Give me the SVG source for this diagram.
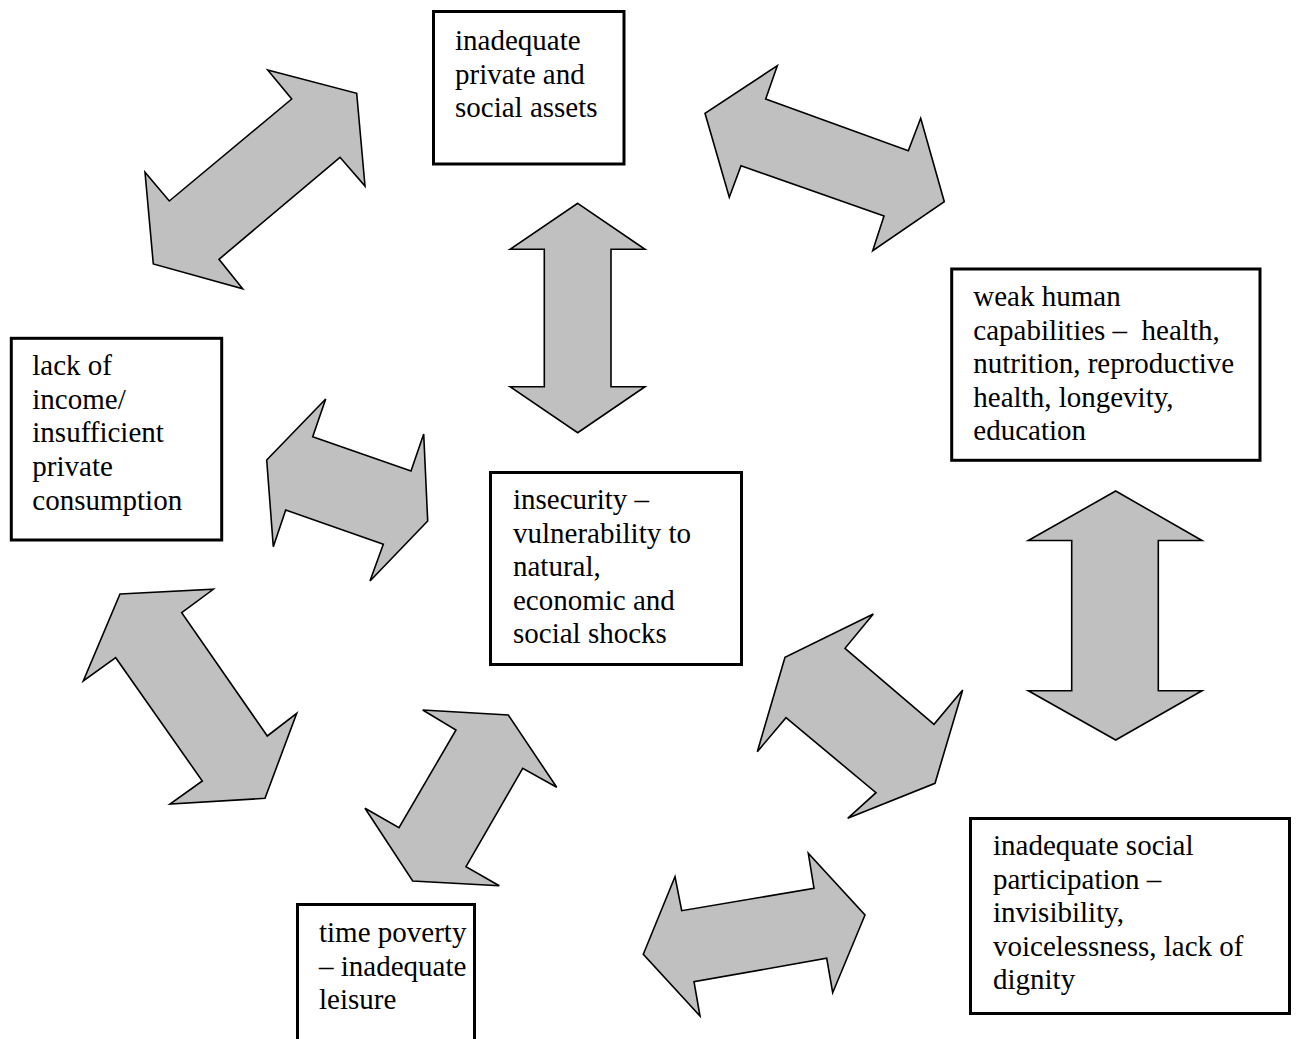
<svg xmlns="http://www.w3.org/2000/svg" width="1303" height="1039" viewBox="0 0 1303 1039">
<style>
.box{fill:#fff;stroke:#000;stroke-width:3}
.arr{fill:#c0c0c0;stroke:#000;stroke-width:1.6;stroke-linejoin:miter}
text{font-family:"Liberation Serif","Times New Roman",serif;font-size:29px;fill:#000;white-space:pre}
</style>
<rect width="1303" height="1039" fill="#fff"/>
<g id="connectors">
<polygon class="arr" points="267.7,70 356.7,93.3 365,186 340,157.3 219,259.3 242.7,288.7 153.3,264 145,172.3 169.3,201 291.7,99"/>
<polygon class="arr" points="777.3,65.7 765.7,99 908.3,150.7 920.7,118.3 944.3,201.7 872.7,250.7 884,216 741,165.7 729.3,197.3 705,113.3"/>
<polygon class="arr" points="577.7,203.3 645,249.3 611,249.3 611,386.7 645,386.7 577.7,432.7 510,386.7 544.3,386.7 544.3,249.3 510,249.3"/>
<polygon class="arr" points="325.7,399 312.7,436.7 411,471 423.7,434 427.7,521 370,581 383.3,544.3 285.7,510 273.3,546.7 266.7,460"/>
<polygon class="arr" points="120,594 213.3,589.3 181.7,612.7 267.3,736 296.7,713.3 265,798.3 170,804 202.3,781 115.7,657.7 83.3,681"/>
<polygon class="arr" points="422.7,710 508.3,715 556.7,787.3 522.7,768.3 466,866.7 499.3,885.7 412.7,881 365,808.3 399,827.7 456,730"/>
<polygon class="arr" points="873.3,614 845,648.3 934,724.3 962.7,690 935,783.3 847.7,818.3 876,792.7 786,717.7 757.3,751.7 785,657.3"/>
<polygon class="arr" points="1115.7,491 1202,540.5 1158.3,540.5 1158.3,690.7 1202,690.7 1115.7,740 1028.3,690.7 1071.7,690.7 1071.7,540.5 1028.3,540.5"/>
<polygon class="arr" points="675,876.7 681.7,910.7 814,888.3 808.3,853.3 865,915 832.7,992.7 826.7,958.3 694,981.7 700,1016 643.3,954.3"/>
</g>
<g id="node-assets">
<rect class="box" x="433.5" y="11.5" width="190.5" height="152.5"/>
<text x="455" y="50">inadequate</text>
<text x="455" y="83.5">private and</text>
<text x="455" y="117">social assets</text>
</g>
<g id="node-capabilities">
<rect class="box" x="951.7" y="269" width="308.3" height="191.3"/>
<text x="973.3" y="306">weak human</text>
<text x="973.3" y="339.5">capabilities –  health,</text>
<text x="973.3" y="373">nutrition, reproductive</text>
<text x="973.3" y="406.5">health, longevity,</text>
<text x="973.3" y="440">education</text>
</g>
<g id="node-income">
<rect class="box" x="11.3" y="338.3" width="210.4" height="201.7"/>
<text x="32.3" y="375">lack of</text>
<text x="32.3" y="408.5">income/</text>
<text x="32.3" y="442">insufficient</text>
<text x="32.3" y="476">private</text>
<text x="32.3" y="509.5">consumption</text>
</g>
<g id="node-insecurity">
<rect class="box" x="490.5" y="472.5" width="251" height="192"/>
<text x="513" y="509">insecurity –</text>
<text x="513" y="542.5">vulnerability to</text>
<text x="513" y="576">natural,</text>
<text x="513" y="609.5">economic and</text>
<text x="513" y="643">social shocks</text>
</g>
<g id="node-participation">
<rect class="box" x="970.5" y="818.5" width="319" height="195"/>
<text x="993" y="855">inadequate social</text>
<text x="993" y="888.5">participation –</text>
<text x="993" y="922">invisibility,</text>
<text x="993" y="955.5">voicelessness, lack of</text>
<text x="993" y="989">dignity</text>
</g>
<g id="node-time">
<rect class="box" x="297.5" y="904.5" width="177" height="138"/>
<text x="319" y="942">time poverty</text>
<text x="319" y="975.5">– inadequate</text>
<text x="319" y="1009">leisure</text>
</g>
</svg>
